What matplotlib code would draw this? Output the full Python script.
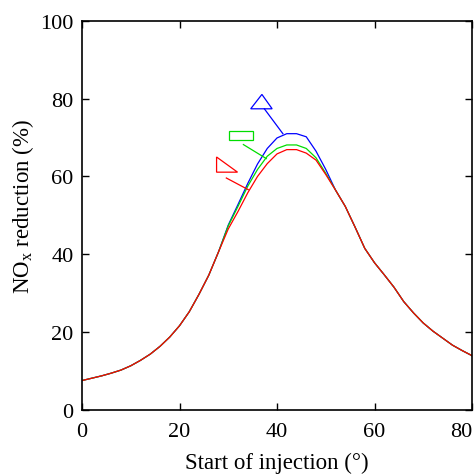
import matplotlib
matplotlib.use("Agg")
import matplotlib.pyplot as plt
from matplotlib.patches import Polygon, Rectangle

plt.rcParams['font.family'] = ['Liberation Serif', 'DejaVu Serif']
plt.rcParams['mathtext.fontset'] = 'custom'
plt.rcParams['mathtext.rm'] = 'Liberation Serif'

# start of injection (deg)
x_vals = [0, 2, 4, 6, 8, 10, 12, 14, 16, 18, 20, 22, 24, 26, 28, 30, 32, 34, 36, 38,
          40, 42, 44, 46, 48, 50, 52, 54, 56, 58, 60, 62, 64, 66, 68, 70, 72, 74, 76, 78, 80]
left_common = [7.5, 8.1, 8.7, 9.4, 10.2, 11.3, 12.7, 14.3, 16.3, 18.7, 21.6, 25.2, 29.7, 34.6, 40.6]
right_common = [56.5, 52.3, 47.0, 41.5, 37.8, 34.7, 31.5, 27.8, 24.9, 22.3, 20.2, 18.4, 16.6, 15.2, 13.9]
blue_mid = [47.5, 52.8, 58.2, 63.2, 67.2, 69.9, 71.0, 71.0, 70.2, 66.5, 61.8]
green_mid = [47.3, 52.3, 57.5, 61.8, 65.2, 67.2, 68.1, 68.1, 67.2, 64.8, 60.8]
red_mid = [46.5, 51.0, 55.8, 60.0, 63.3, 65.8, 66.9, 66.9, 66.0, 64.2, 60.5]

blue = left_common + blue_mid + right_common
green = left_common + green_mid + right_common
red = left_common + red_mid + right_common

fig = plt.figure(figsize=(4.77, 4.77), dpi=100)
ax = fig.add_axes([0.172, 0.139, 0.8175, 0.815])

ax.plot(x_vals, blue, color='#0000ff', lw=0.9)
ax.plot(x_vals, green, color='#00dd00', lw=0.9)
ax.plot(x_vals, red, color='#ff0000', lw=0.9)

# annotation markers with leader lines
ax.add_patch(Polygon([[34.6, 77.4], [39.0, 77.4], [36.9, 81.1]], closed=True,
                     fill=False, edgecolor='#0000ff', lw=0.9))
ax.plot([37.4, 41.2], [77.4, 71.0], color='#0000ff', lw=0.9)
ax.add_patch(Rectangle((30.2, 69.5), 4.9, 2.3, fill=False, edgecolor='#00dd00', lw=0.9))
ax.plot([33.1, 37.8], [68.2, 64.6], color='#00dd00', lw=0.9)
ax.add_patch(Polygon([[27.6, 65.0], [27.6, 61.1], [31.9, 61.1]], closed=True,
                     fill=False, edgecolor='#ff0000', lw=0.9))
ax.plot([29.6, 34.1], [59.6, 56.6], color='#ff0000', lw=0.9)

ax.set_xlim(0, 80)
ax.set_ylim(0, 100)
ax.set_xticks([0, 20, 40, 60, 80])
ax.set_yticks([0, 20, 40, 60, 80, 100])
ax.tick_params(direction='in', length=5, width=1, labelsize=16,
               top=True, right=True, colors='black')
ax.tick_params(axis='x', pad=9)
ax.tick_params(axis='y', pad=6)
xl = ax.get_xticklabels()
xl[-1].set_horizontalalignment('right')
ax.set_xticklabels(xl)
for s in ax.spines.values():
    s.set_linewidth(1.2)

ax.set_xlabel('Start of injection (°)', fontsize=16.5, labelpad=8)
ax.set_ylabel('NO$_\\mathrm{x}$ reduction (%)', fontsize=16.5)
ax.yaxis.set_label_coords(-0.118, 0.525)

fig.savefig('out.png', dpi=100)
